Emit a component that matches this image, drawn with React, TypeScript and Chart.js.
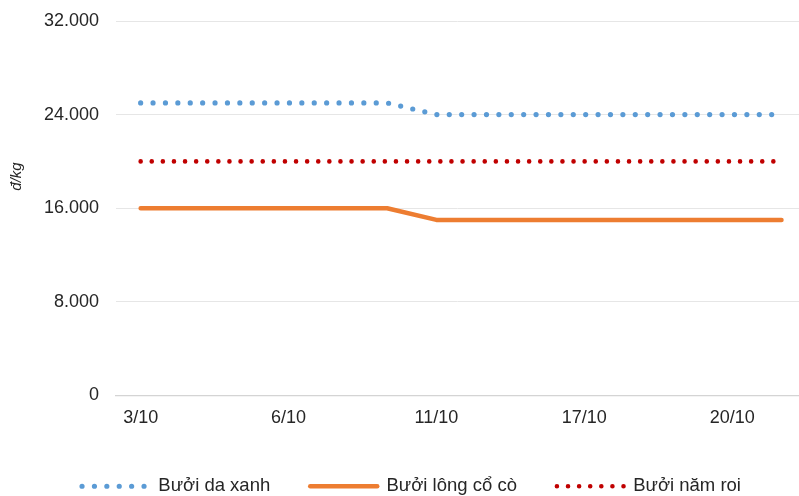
import React, { useEffect, useRef } from 'react';
import { Chart, registerables } from 'chart.js';

Chart.register(...registerables);

// Categories (only every third label is shown on the axis, as in the reference)
const categories = ['3/10', '4/10', '5/10', '6/10', '8/10', '10/10', '11/10', '13/10', '15/10', '17/10', '18/10', '19/10', '20/10', '21/10'];
const shownLabelIndexes = [0, 3, 6, 9, 12];

// Series (đ/kg)
const daXanh = [25000, 25000, 25000, 25000, 25000, 25000, 24000, 24000, 24000, 24000, 24000, 24000, 24000, 24000];
const longCoCo = [16000, 16000, 16000, 16000, 16000, 16000, 15000, 15000, 15000, 15000, 15000, 15000, 15000, 15000];
const namRoi = [20000, 20000, 20000, 20000, 20000, 20000, 20000, 20000, 20000, 20000, 20000, 20000, 20000, 20000];

const seriesNames = ['Bưởi da xanh', 'Bưởi lông cổ cò', 'Bưởi năm roi'];
const yTicks = [0, 8000, 16000, 24000, 32000];
const yTitle = 'đ/kg';

const FONT = '"Liberation Sans", Arial, sans-serif';
const TEXT = '#262626';

const fmt = (v: number) => String(v).replace(/\B(?=(\d{3})+(?!\d))/g, '.');
const toPoints = (arr: number[]) => arr.map((y, i) => ({ x: i, y }));

const yTitlePlugin = {
  id: 'yTitleCustom',
  afterDraw(chart: any) {
    const ctx = chart.ctx;
    ctx.save();
    ctx.translate(17, 176.5);
    ctx.rotate(-Math.PI / 2);
    ctx.font = `italic 15px ${FONT}`;
    ctx.fillStyle = TEXT;
    ctx.textAlign = 'center';
    ctx.textBaseline = 'middle';
    ctx.fillText(yTitle, 0, 0);
    ctx.restore();
  },
};

export default function App() {
  const canvasRef = useRef<HTMLCanvasElement | null>(null);

  useEffect(() => {
    if (!canvasRef.current) return;
    const chart = new Chart(canvasRef.current, {
      type: 'line',
      data: {
        datasets: [
          {
            label: seriesNames[0],
            data: toPoints(daXanh),
            borderColor: '#5B9BD5',
            backgroundColor: '#5B9BD5',
            borderWidth: 5.2,
            borderDash: [0, 12.4],
            borderCapStyle: 'round',
            borderJoinStyle: 'round',
            pointRadius: 0,
            pointHoverRadius: 0,
            tension: 0,
          },
          {
            label: seriesNames[1],
            data: toPoints(longCoCo),
            borderColor: '#ED7D31',
            backgroundColor: '#ED7D31',
            borderWidth: 4.5,
            borderCapStyle: 'round',
            borderJoinStyle: 'round',
            pointRadius: 0,
            pointHoverRadius: 0,
            tension: 0,
          },
          {
            label: seriesNames[2],
            data: toPoints(namRoi),
            borderColor: '#C00000',
            backgroundColor: '#C00000',
            borderWidth: 4.6,
            borderDash: [0, 11.1],
            borderCapStyle: 'round',
            borderJoinStyle: 'round',
            pointRadius: 0,
            pointHoverRadius: 0,
            tension: 0,
          },
        ],
      } as any,
      options: {
        animation: false,
        responsive: true,
        maintainAspectRatio: false,
        layout: { padding: { top: 21, left: 24, right: 0, bottom: 0 } },
        scales: {
          x: {
            type: 'linear',
            min: -0.5,
            max: 13.355,
            afterBuildTicks: (axis: any) => {
              axis.ticks = shownLabelIndexes.map((v) => ({ value: v }));
            },
            afterFit: (scale: any) => {
              scale.height = 41.6;
            },
            grid: { display: false, drawTicks: false },
            border: { display: true, color: '#d4d4d4', width: 1.2 },
            ticks: {
              autoSkip: false,
              maxRotation: 0,
              padding: 12,
              color: TEXT,
              font: { family: FONT, size: 18 },
              callback: (v: any) => categories[Number(v)] ?? '',
            },
          },
          y: {
            min: 0,
            max: 32000,
            afterBuildTicks: (axis: any) => {
              axis.ticks = yTicks.map((v) => ({ value: v }));
            },
            afterFit: (scale: any) => {
              scale.width = 92;
              scale.paddingTop = 0;
              scale.paddingBottom = 0;
            },
            border: { display: false },
            grid: { color: '#e6e6e6', lineWidth: 1, drawTicks: false },
            ticks: {
              padding: 17,
              color: TEXT,
              font: { family: FONT, size: 18 },
              callback: (v: any) => fmt(Number(v)),
            },
          },
        } as any,
        plugins: {
          tooltip: { enabled: false },
          legend: {
            position: 'bottom',
            maxHeight: 59,
            labels: {
              usePointStyle: true,
              pointStyleWidth: 67,
              boxWidth: 67,
              padding: 40,
              color: TEXT,
              font: { family: FONT, size: 18.5 },
              generateLabels: (ch: any) =>
                ch.data.datasets.map((ds: any, i: number) => ({
                  text: ds.label,
                  fillStyle: ds.borderColor,
                  strokeStyle: ds.borderColor,
                  fontColor: TEXT,
                  lineWidth: ds.borderWidth,
                  lineDash: ds.borderDash || [],
                  lineCap: ds.borderCapStyle,
                  lineJoin: 'round',
                  pointStyle: 'line',
                  hidden: false,
                  datasetIndex: i,
                })),
            },
          },
        } as any,
      },
      plugins: [yTitlePlugin],
    } as any);
    return () => chart.destroy();
  }, []);

  return (
    <div style={{ position: 'fixed', left: 0, top: 0, width: 799, height: 496, background: '#fff' }}>
      <canvas ref={canvasRef} />
    </div>
  );
}
